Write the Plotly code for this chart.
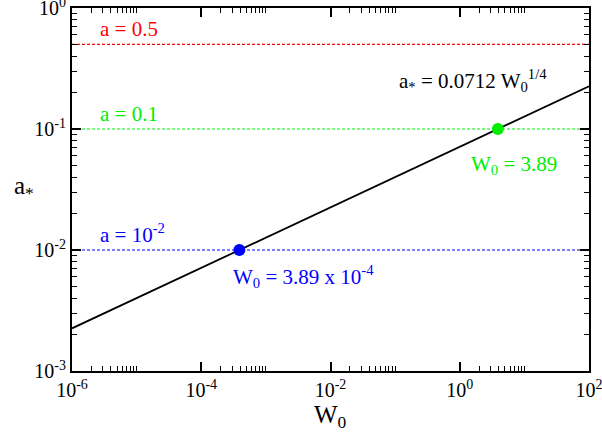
import numpy as np
import plotly.graph_objects as go

# ---- data ----
coef = 0.0712
power = 0.25
w_line = [1e-6, 1e2]
a_line = [coef * w ** power for w in w_line]

levels = [0.5, 0.1, 1e-2]
level_colors = ["#ff0000", "#00ee00", "#0000ff"]
level_labels = ["a = 0.5", "a = 0.1", "a = 10<sup>-2</sup>"]

pts_w = [3.89, 3.89e-4]
pts_a = [0.1, 0.01]
pts_colors = ["#00ee00", "#0000ff"]

x_tickvals = [1e-6, 1e-4, 1e-2, 1e0, 1e2]
x_ticktext = ["10<sup>-6</sup>", "10<sup>-4</sup>", "10<sup>-2</sup>", "10<sup>0</sup>", "10<sup>2</sup>"]
y_tickvals = [1e-3, 1e-2, 1e-1, 1e0]
y_ticktext = ["10<sup>-3</sup>", "10<sup>-2</sup>", "10<sup>-1</sup>", "10<sup>0</sup>"]

x_minor = [k * 10.0 ** m for m in [-6, -4, -2, 0] for k in range(2, 11)]
y_minor = [k * 10.0 ** m for m in [-3, -2, -1] for k in range(2, 10)]

FONT = "Liberation Serif"

fig = go.Figure()

for lv, col in zip(levels, level_colors):
    fig.add_trace(go.Scatter(x=w_line, y=[lv, lv], mode="lines",
                             line=dict(color=col, width=1.2, dash="3px,2px"),
                             showlegend=False, hoverinfo="skip"))

fig.add_trace(go.Scatter(x=w_line, y=a_line, mode="lines",
                         line=dict(color="black", width=1.8),
                         showlegend=False))

for w, a, col in zip(pts_w, pts_a, pts_colors):
    fig.add_trace(go.Scatter(x=[w], y=[a], mode="markers",
                             marker=dict(color=col, size=12),
                             showlegend=False))

axis_common = dict(
    type="log", showline=True, linecolor="black", linewidth=2, mirror="ticks",
    ticks="inside", ticklen=9, tickwidth=1.5, tickcolor="black",
    showgrid=False, zeroline=False, automargin=False,
    tickfont=dict(family=FONT, size=20, color="black"),
    tickmode="array", ticklabeloverflow="allow",
)

fig.update_xaxes(**axis_common, range=[-6, 2], tickvals=x_tickvals, ticktext=x_ticktext,
                 minor=dict(tickmode="array", tickvals=x_minor, ticks="inside",
                            ticklen=5, tickwidth=1.2, tickcolor="black", showgrid=False))
fig.update_yaxes(**axis_common, range=[-3, 0], tickvals=y_tickvals, ticktext=y_ticktext,
                 minor=dict(tickmode="array", tickvals=y_minor, ticks="inside",
                            ticklen=5, tickwidth=1.2, tickcolor="black", showgrid=False))

ann_font = dict(family=FONT, size=21)
annotations = [
    dict(text="a = 0.5", x=0.050, y=0.942, color="#ff0000"),
    dict(text="a = 0.1", x=0.050, y=0.708, color="#00ee00"),
    dict(text="a = 10<sup>-2</sup>", x=0.050, y=0.38, color="#0000ff"),
    dict(text="W<sub>0</sub> = 3.89 x 10<sup>-4</sup>", x=0.308, y=0.26, color="#0000ff"),
    dict(text="W<sub>0</sub> = 3.89", x=0.768, y=0.568, color="#00ee00"),
    dict(text="a<sub>*</sub> = 0.0712 W<sub>0</sub><sup>1/4</sup>", x=0.628, y=0.800, color="black"),
]
for an in annotations:
    fig.add_annotation(text=an["text"], x=an["x"], y=an["y"], xref="paper", yref="paper",
                       xanchor="left", yanchor="middle", showarrow=False,
                       font=dict(**ann_font, color=an["color"]))

fig.add_annotation(text="a<sub>*</sub>", x=-0.116, y=0.505, xref="paper", yref="paper",
                   xanchor="left", yanchor="middle", showarrow=False,
                   font=dict(family=FONT, size=25, color="black"))
fig.add_annotation(text="W<sub>0</sub>", x=0.5, y=-0.125, xref="paper", yref="paper",
                   xanchor="center", yanchor="middle", showarrow=False,
                   font=dict(family=FONT, size=25, color="black"))

fig.update_layout(width=602, height=437, margin=dict(l=72, r=13, t=8, b=66),
                  plot_bgcolor="white", paper_bgcolor="white")

# remove the page's default body margin so the figure starts at the window's corner
fig.write_html("out.html", config={"displayModeBar": False},
               post_script="document.body.style.margin='0';")
